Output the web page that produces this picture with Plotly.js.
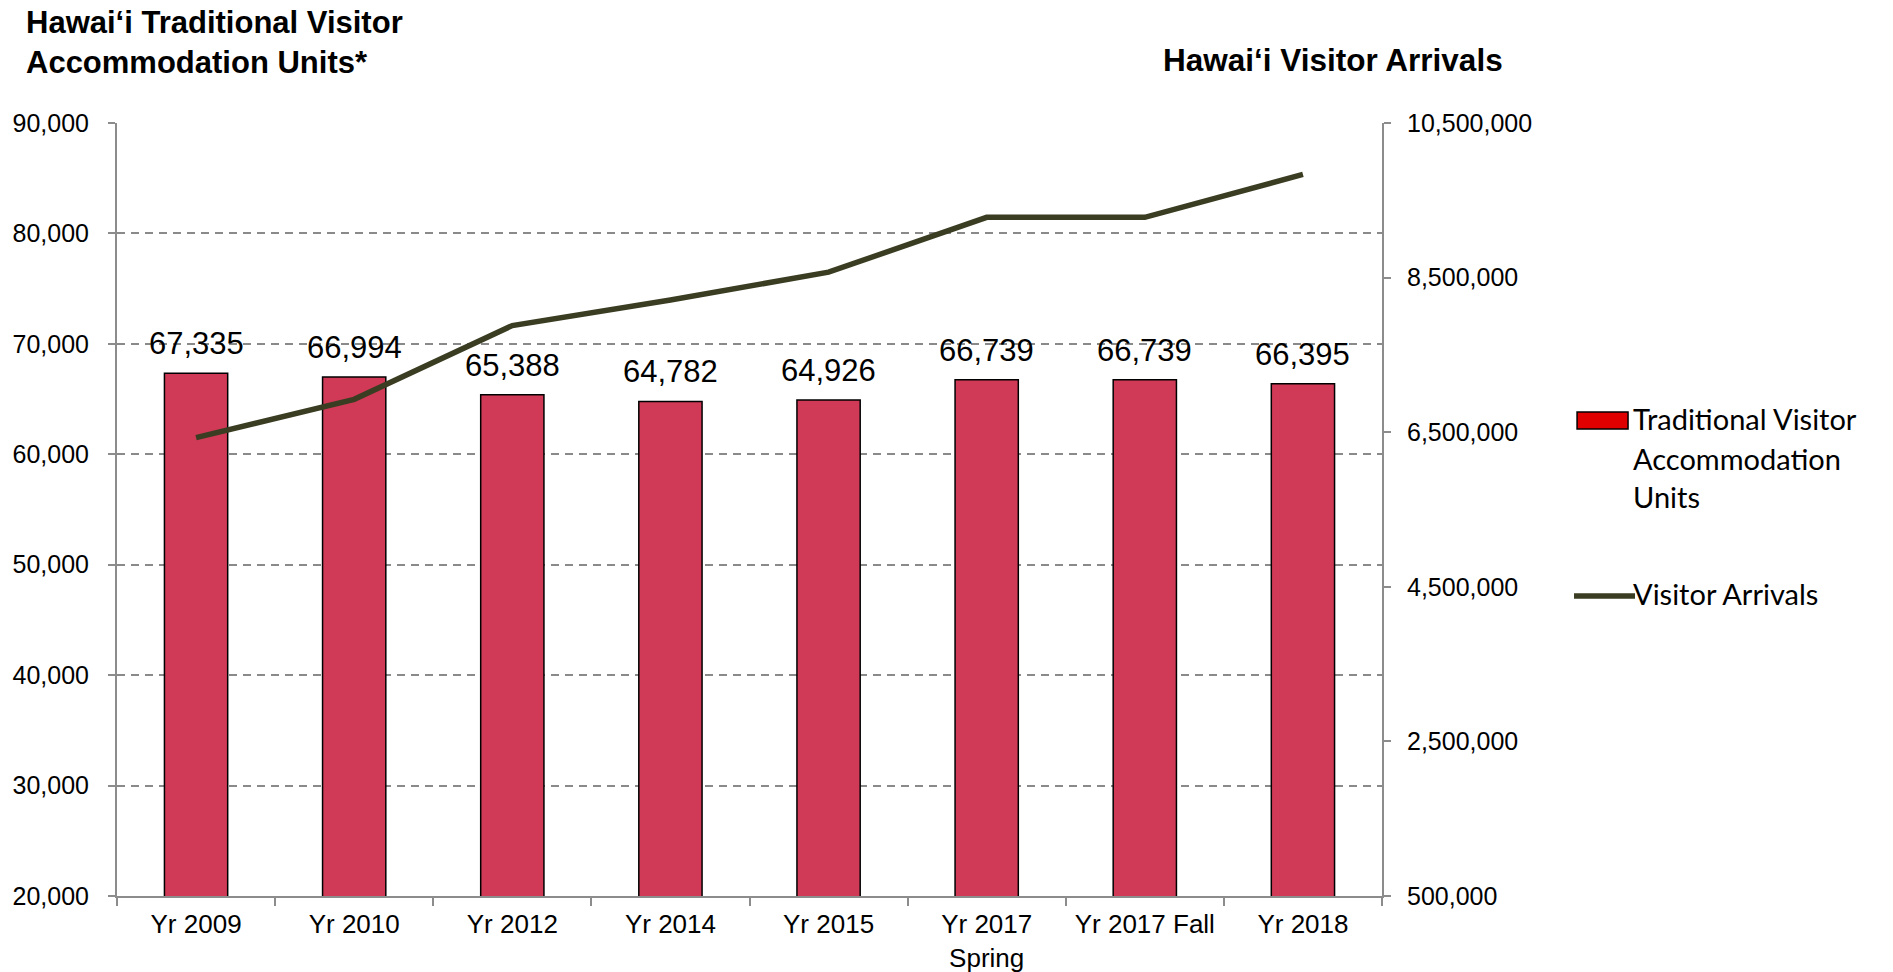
<!DOCTYPE html>
<html>
<head>
<meta charset="utf-8">
<script src="https://cdn.plot.ly/plotly-3.0.1.min.js"></script>
<style>html,body{margin:0;padding:0;background:#fff;}#chart{width:1893px;height:972px;}</style>
</head>
<body>
<div id="chart"></div>
<script>
// ---- data ----
const categories = ["Yr 2009", "Yr 2010", "Yr 2012", "Yr 2014", "Yr 2015", "Yr 2017<br>Spring", "Yr 2017 Fall", "Yr 2018"];
const accommodationUnits = [67335, 66994, 65388, 64782, 64926, 66739, 66739, 66395];
const visitorArrivals = [6430000, 6925000, 7880000, 8210000, 8570000, 9280000, 9280000, 9835000];
const leftTicks = [20000, 30000, 40000, 50000, 60000, 70000, 80000, 90000];
const rightTicks = [500000, 2500000, 4500000, 6500000, 8500000, 10500000];
const seriesNames = ["Traditional Visitor Accommodation Units", "Visitor Arrivals"];
const leftTitle = "Hawai‘i Traditional Visitor<br>Accommodation Units*";
const rightTitle = "Hawai‘i Visitor Arrivals";

const AR = "Arial, 'Liberation Sans', sans-serif";
const fmt = v => v.toLocaleString('en-US');

const bars = {
  type: 'bar', name: seriesNames[0], x: categories, y: accommodationUnits,
  marker: {color: '#d03a56', line: {color: '#000000', width: 1.5}},
  hoverinfo: 'x+y', showlegend: false
};
const line = {
  type: 'scatter', mode: 'lines', name: seriesNames[1], x: categories, y: visitorArrivals,
  yaxis: 'y2', line: {color: '#3a3d22', width: 5.5}, cliponaxis: false, showlegend: false
};

const annotations = accommodationUnits.map((v, i) => ({
  x: categories[i], y: v, xref: 'x', yref: 'y', text: fmt(v), showarrow: false,
  yanchor: 'bottom', yshift: 10, font: {family: AR, size: 31, color: '#000'}
}));

annotations.push(
  {xref: 'paper', yref: 'paper', x: -0.0735, y: 1.1555, xanchor: 'left', yanchor: 'top', align: 'left',
   text: '<b>' + leftTitle + '</b>', showarrow: false, font: {family: AR, size: 31, color: '#000'}},
  {xref: 'paper', yref: 'paper', x: 0.8255, y: 1.0815, xanchor: 'left', yanchor: 'middle',
   text: '<b>' + rightTitle + '</b>', showarrow: false, font: {family: AR, size: 31.5, color: '#000'}}
);

const legFont = {family: "Lato, Carlito, Calibri, sans-serif", size: 29, color: '#000'};
const legLines = ["Traditional Visitor", "Accommodation", "Units"];
const legY = [0.6181, 0.5663, 0.5172];
legLines.forEach((t, i) => annotations.push({xref: 'paper', yref: 'paper', x: 1.1970, y: legY[i],
  xanchor: 'left', yanchor: 'middle', text: t, showarrow: false, font: legFont}));
annotations.push({xref: 'paper', yref: 'paper', x: 1.1970, y: 0.3917, xanchor: 'left', yanchor: 'middle',
  text: seriesNames[1], showarrow: false, font: legFont});

const shapes = [
  {type: 'rect', xref: 'paper', yref: 'paper', x0: 1.1542, x1: 1.1945, y0: 0.6041, y1: 0.6261,
   fillcolor: '#e00000', line: {color: '#000', width: 1.5}},
  {type: 'line', xref: 'paper', yref: 'paper', x0: 1.1518, x1: 1.2000, y0: 0.3881, y1: 0.3881,
   line: {color: '#3a3d22', width: 5.5}}
];

const layout = {
  width: 1893, height: 972,
  margin: {l: 117, r: 511, t: 123, b: 76},
  paper_bgcolor: '#fff', plot_bgcolor: '#fff',
  bargap: 0.6,
  showlegend: false,
  xaxis: {
    type: 'category', showgrid: false, showline: true, linecolor: '#8c8c8c', linewidth: 2,
    ticks: 'outside', tickson: 'boundaries', ticklen: 8, tickcolor: '#8c8c8c', tickwidth: 2,
    tickfont: {family: AR, size: 26, color: '#000'}, ticklabelstandoff: 4, zeroline: false
  },
  yaxis: {
    range: [20000, 90000], tickvals: leftTicks, ticktext: leftTicks.map(fmt),
    showgrid: true, gridcolor: '#8a8a8a', gridwidth: 2, griddash: '8px,6px',
    showline: true, linecolor: '#8c8c8c', linewidth: 2,
    ticks: 'outside', ticklen: 7, tickcolor: '#8c8c8c', tickwidth: 2,
    tickfont: {family: AR, size: 25, color: '#000'}, ticklabelstandoff: 14, zeroline: false
  },
  yaxis2: {
    overlaying: 'y', side: 'right', range: [500000, 10500000], tickvals: rightTicks, ticktext: rightTicks.map(fmt),
    showgrid: false, showline: true, linecolor: '#8c8c8c', linewidth: 2,
    ticks: 'outside', ticklen: 7, tickcolor: '#8c8c8c', tickwidth: 2,
    tickfont: {family: AR, size: 25, color: '#000'}, ticklabelstandoff: 11, zeroline: false
  },
  annotations: annotations,
  shapes: shapes
};

Plotly.newPlot('chart', [bars, line], layout, {staticPlot: true, displayModeBar: false});
</script>
</body>
</html>
